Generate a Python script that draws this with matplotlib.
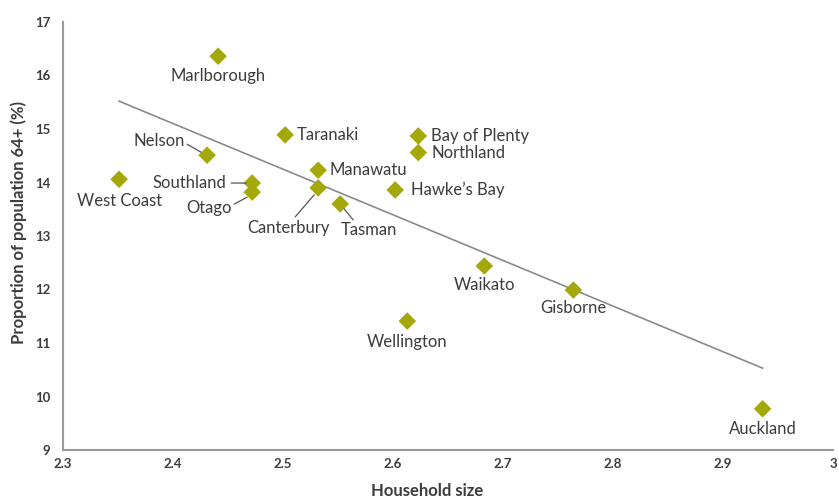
import matplotlib.pyplot as plt
from matplotlib.transforms import offset_copy

plt.rcParams['font.family'] = ['Lato', 'DejaVu Sans']

regions = ['Marlborough', 'West Coast', 'Nelson', 'Southland', 'Otago', 'Taranaki',
           'Manawatu', 'Canterbury', 'Tasman', 'Bay of Plenty', 'Northland',
           "Hawke\u2019s Bay", 'Waikato', 'Gisborne', 'Wellington', 'Auckland']
household_size = [2.441, 2.351, 2.431, 2.472, 2.472, 2.502, 2.532, 2.532, 2.552, 2.623,
                  2.623, 2.602, 2.683, 2.764, 2.613, 2.936]
pop_64_plus = [16.36, 14.06, 14.51, 13.99, 13.82, 14.89, 14.23, 13.9, 13.6, 14.87,
               14.56, 13.86, 12.44, 11.99, 11.41, 9.77]
trend_x = [2.351, 2.936]
trend_y = [15.52, 10.53]

# label offsets in pixels (dx, dy, ha)
label_pos = {
    'Marlborough': (0, -20, 'center'),
    'West Coast': (0, -22, 'center'),
    'Nelson': (-22, 14, 'right'),
    'Southland': (-26, 0, 'right'),
    'Otago': (-20, -16, 'right'),
    'Taranaki': (12, 0, 'left'),
    'Manawatu': (11, 0, 'left'),
    'Canterbury': (-30, -40, 'center'),
    'Tasman': (1, -26, 'left'),
    'Bay of Plenty': (13, 0, 'left'),
    'Northland': (13, 0, 'left'),
    "Hawke\u2019s Bay": (16, 0, 'left'),
    'Waikato': (0, -19, 'center'),
    'Gisborne': (0, -18, 'center'),
    'Wellington': (0, -21, 'center'),
    'Auckland': (0, -20, 'center'),
}
# leader lines: start and end offsets in pixels from the point
leaders = {
    'Nelson': ((-20, 11), (-6, 3)),
    'Southland': ((-21, 0), (-6, 0)),
    'Otago': ((-18, -12), (-5, -5)),
    'Canterbury': ((-23, -29), (-4, -7)),
    'Tasman': ((4, -5), (13, -16)),
}

green = '#a4a80a'
text_col = '#3c3c3c'
axis_col = '#9a9a9a'

fig = plt.figure(figsize=(8.39, 5.0), dpi=100)
ax = fig.add_axes([63 / 839, 50 / 500, (833 - 63) / 839, (450 - 22) / 500])

ax.plot(trend_x, trend_y, color='#8a8a8a', lw=1.2, zorder=1)
ax.scatter(household_size, pop_64_plus, marker='D', s=80, color=green,
           edgecolors='none', zorder=3)

for name, x, y in zip(regions, household_size, pop_64_plus):
    dx, dy, ha = label_pos[name]
    ax.annotate(name, (x, y), xytext=(dx, dy), textcoords='offset pixels',
                ha=ha, va='center', fontsize=12, color=text_col)
    if name in leaders:
        (x0, y0), (x1, y1) = leaders[name]
        t0 = offset_copy(ax.transData, fig=fig, x=x0, y=y0, units='dots')
        t1 = offset_copy(ax.transData, fig=fig, x=x1, y=y1, units='dots')
        ax.annotate('', xy=(x, y), xycoords=t1, xytext=(x, y), textcoords=t0,
                    arrowprops=dict(arrowstyle='-', color='#555555', lw=0.9,
                                    shrinkA=0, shrinkB=0))

ax.set_xlim(2.3, 3.0)
ax.set_ylim(9, 17)
ax.set_xticks([2.3, 2.4, 2.5, 2.6, 2.7, 2.8, 2.9, 3.0])
ax.set_xticklabels(['2.3', '2.4', '2.5', '2.6', '2.7', '2.8', '2.9', '3'])
ax.set_yticks(range(9, 18))

for side in ['top', 'right']:
    ax.spines[side].set_visible(False)
for side in ['left', 'bottom']:
    ax.spines[side].set_color(axis_col)
    ax.spines[side].set_linewidth(1.5)

ax.tick_params(length=0, labelsize=9.5, colors=text_col)
ax.tick_params(axis='x', pad=6)
ax.tick_params(axis='y', pad=9)
for lab in ax.get_xticklabels() + ax.get_yticklabels():
    lab.set_fontweight('bold')

ax.set_xlabel('Household size', fontsize=12, fontweight='bold', color=text_col,
              va='center')
ax.set_ylabel('Proportion of population 64+ (%)', fontsize=12, fontweight='bold',
              color=text_col, va='center')
ax.xaxis.set_label_coords((427 - 63) / 770, -41 / 428)
ax.yaxis.set_label_coords(-44 / 770, (450 - 222) / 428)

fig.savefig('out.png', dpi=100, facecolor='white')
